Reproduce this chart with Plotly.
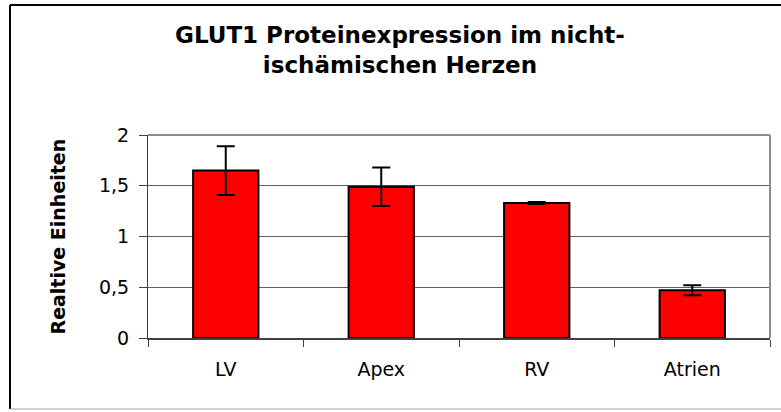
import plotly.graph_objects as go

regions = ["LV", "Apex", "RV", "Atrien"]
expression = [1.65, 1.49, 1.33, 0.47]
expression_err = [0.24, 0.19, 0.01, 0.05]
y_ticks = [0, 0.5, 1, 1.5, 2]

fig = go.Figure(go.Bar(
    x=regions, y=expression,
    marker=dict(color="#FF0000", line=dict(color="black", width=2)),
    error_y=dict(type="data", array=expression_err, color="black", thickness=2, width=9),
))

# pixel -> paper helpers (plot area spans x 148..770, y 135..338)
L, R, T, B = 148, 770, 135, 338
px = lambda v: (v - L) / (R - L)
py = lambda v: (B - v) / (B - T)

shapes = [
    # outer chart frame
    dict(type="line", xref="paper", yref="paper", x0=px(10), x1=px(800), y0=py(5), y1=py(5),
         line=dict(color="black", width=2)),
    dict(type="line", xref="paper", yref="paper", x0=px(10), x1=px(10), y0=py(5), y1=py(409),
         line=dict(color="black", width=2)),
    dict(type="line", xref="paper", yref="paper", x0=px(10), x1=px(800), y0=py(409), y1=py(409),
         line=dict(color="#A0A0A0", width=1)),
    # plot area top / right border
    dict(type="line", xref="paper", yref="paper", x0=0, x1=1, y0=1, y1=1,
         line=dict(color="#8C8C8C", width=2)),
    dict(type="line", xref="paper", yref="paper", x0=1, x1=1, y0=0, y1=1,
         line=dict(color="#8C8C8C", width=2)),
]

fig.update_layout(
    width=781, height=412,
    margin=dict(l=L, r=781 - R, t=T, b=412 - B, autoexpand=False),
    paper_bgcolor="white", plot_bgcolor="white",
    separators=",.",
    bargap=0.58,
    showlegend=False,
    font=dict(family="Arial, Liberation Sans, sans-serif", color="black"),
    shapes=shapes,
    annotations=[
        dict(text="<b>GLUT1 Proteinexpression im nicht-<br>ischämischen Herzen</b>",
             xref="paper", yref="paper", x=px(400), y=py(50), xanchor="center", yanchor="middle",
             showarrow=False, align="center",
             font=dict(family="DejaVu Sans", size=23)),
        dict(text="<b>Realtive Einheiten</b>", textangle=-90,
             xref="paper", yref="paper", x=px(57), y=0.5, xanchor="center", yanchor="middle",
             showarrow=False, font=dict(family="DejaVu Sans", size=19)),
    ],
)
fig.update_yaxes(
    range=[0, 2], tickvals=y_ticks, ticks="outside", ticklen=8, tickcolor="#404040",
    showgrid=True, gridcolor="#606060", gridwidth=1,
    showline=True, linecolor="#404040", linewidth=1,
    tickfont=dict(family="DejaVu Sans", size=19), zeroline=False,
    ticklabelstandoff=6,
)
fig.update_xaxes(
    tickson="boundaries", ticks="outside", ticklen=7, tickcolor="#404040",
    showline=True, linecolor="#404040", linewidth=2,
    tickfont=dict(family="DejaVu Sans", size=19),
    ticklabelstandoff=13,
)

fig.write_html("out.html", config={"displayModeBar": False},
               post_script="document.body.style.margin='0px';")
